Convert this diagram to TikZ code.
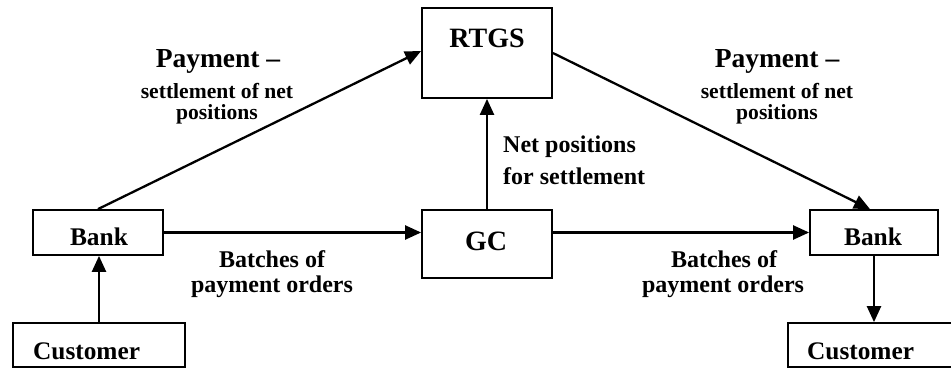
\documentclass[tikz,border=0pt]{standalone}
\usepackage{fontspec}
\setmainfont{Liberation Serif}
\usetikzlibrary{arrows.meta}
\begin{document}
\begin{tikzpicture}[x=1pt,y=-1pt,
  box/.style={draw=black,line width=1.8pt,rectangle,inner sep=0pt},
  txt/.style={inner sep=0pt,font=\bfseries},
  arr/.style={line width=2.3pt,-{Triangle[length=16pt,width=14pt]}}]
\useasboundingbox (0,0) rectangle (951,368);

% boxes
\node[box,minimum width=130pt,minimum height=90pt] (rtgs) at (487,53) {};
\node[box,minimum width=130pt,minimum height=68pt] (gc) at (487,244) {};
\node[box,minimum width=130pt,minimum height=45pt] (bankL) at (98,232.5) {};
\node[box,minimum width=128pt,minimum height=45pt] (bankR) at (874,232.5) {};
\node[box,minimum width=172pt,minimum height=44pt] (custL) at (99,345) {};
\node[box,minimum width=172pt,minimum height=44pt] (custR) at (874,345) {};

% box captions
\node[txt,anchor=base] (rtgsT) at (487,47) {\fontsize{28}{30}\selectfont RTGS};
\node[txt,anchor=base] (gcT) at (486,250) {\fontsize{28}{30}\selectfont GC};
\node[txt,anchor=base] (bankLT) at (99,245) {\fontsize{25.4}{28}\selectfont Bank};
\node[txt,anchor=base] (bankRT) at (873,245) {\fontsize{25.4}{28}\selectfont Bank};
\node[txt,anchor=base west] (custLT) at (33,359) {\fontsize{25.3}{28}\selectfont Customer};
\node[txt,anchor=base west] (custRT) at (807,359) {\fontsize{25.3}{28}\selectfont Customer};

% connectors
\draw[arr] (custL.north) -- (custL.north |- bankL.south);
\draw[arr] (bankR.south) -- (custR.north);
\draw[arr] (bankL.east) -- (bankL.east -| gc.west);
\draw[arr] (bankR.west -| gc.east) -- (bankR.west);
\draw[arr] (gc.north) -- (rtgs.south);
\draw[arr] (bankL.north) -- ([yshift=2pt]rtgs.west);
\draw[arr] (rtgs.east) -- ([xshift=-4pt]bankR.north);

% labels of the payment lines
\node[txt,anchor=base] (payL1) at (218,67) {\fontsize{27.5}{30}\selectfont Payment –};
\node[txt,anchor=base] (payL2) at (217,98) {\fontsize{21.6}{24}\selectfont settlement of net};
\node[txt,anchor=base] (payL3) at (217,119) {\fontsize{21.6}{24}\selectfont positions};
\node[txt,anchor=base] (payR1) at (777,67) {\fontsize{27.5}{30}\selectfont Payment –};
\node[txt,anchor=base] (payR2) at (777,98) {\fontsize{21.6}{24}\selectfont settlement of net};
\node[txt,anchor=base] (payR3) at (777,119) {\fontsize{21.6}{24}\selectfont positions};

% label of the net positions line
\node[txt,anchor=base west] (net1) at (503,152) {\fontsize{24}{26}\selectfont Net positions};
\node[txt,anchor=base west] (net2) at (503,184) {\fontsize{24}{26}\selectfont for settlement};

% labels of the batch lines
\node[txt,anchor=base] (batL1) at (272,267) {\fontsize{24}{26}\selectfont Batches of};
\node[txt,anchor=base] (batL2) at (272,292) {\fontsize{24}{26}\selectfont payment orders};
\node[txt,anchor=base] (batR1) at (724,267) {\fontsize{24}{26}\selectfont Batches of};
\node[txt,anchor=base] (batR2) at (723,292) {\fontsize{24}{26}\selectfont payment orders};
\end{tikzpicture}
\end{document}
